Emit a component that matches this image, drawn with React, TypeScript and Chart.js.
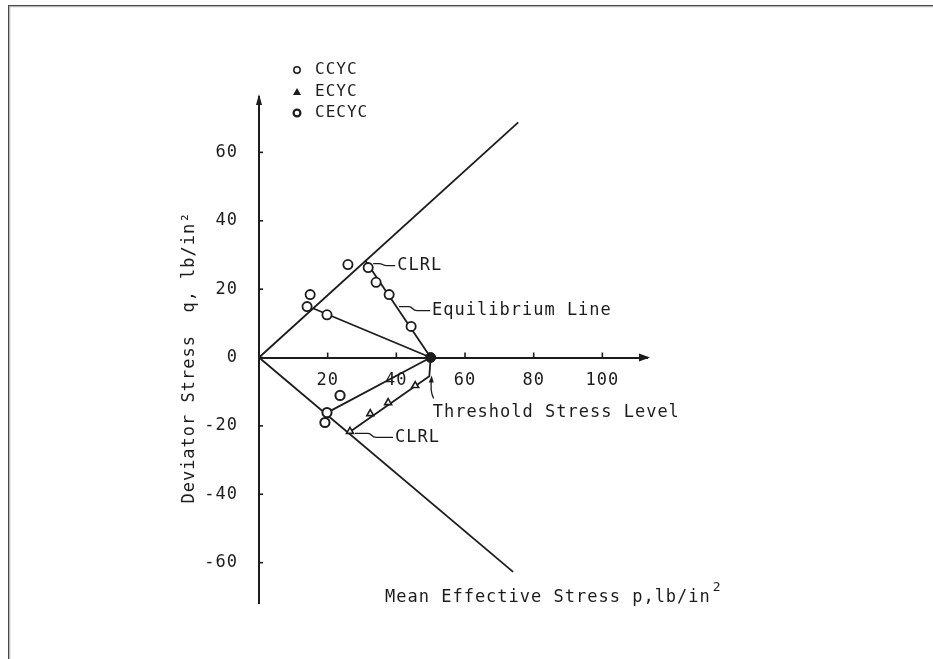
import React, { useEffect, useRef } from 'react';
import { Chart, registerables } from 'chart.js';

Chart.register(...registerables);

// ---- data ----
const xTicks = [20, 40, 60, 80, 100];
const yTicks = [-60, -40, -20, 0, 20, 40, 60];

const upperEnvP = [0, 75.5];
const upperEnvQ = [0, 68.8];
const lowerEnvP = [0, 74];
const lowerEnvQ = [0, -62.7];

const thresholdP = [50];
const thresholdQ = [0];

const ccycPathP = [50, 15.7];
const ccycPathQ = [0, 14.4];
const equilibriumP = [50, 31];
const equilibriumQ = [0, 28.3];
const cecycPathP = [50, 19.3];
const cecycPathQ = [0, -16.4];
const ecycPathP = [50, 49.6, 26.5];
const ecycPathQ = [0, -5.5, -21.7];

const ccycP = [14.9, 14.0, 19.8, 25.9, 31.8, 34.1, 37.9, 44.3];
const ccycQ = [18.4, 14.9, 12.5, 27.2, 26.3, 22.0, 18.4, 9.1];
const ecycP = [26.5, 32.4, 37.6, 45.5];
const ecycQ = [-21.6, -16.4, -13.2, -8.2];
const cecycP = [19.8, 19.2, 23.6];
const cecycQ = [-16.1, -19.0, -11.1];

const legendLabels = ['CCYC', 'ECYC', 'CECYC'];
const yTitle = 'Deviator Stress  q, lb/in²';
const xTitle = 'Mean Effective Stress p,lb/in';
const clrlLabel = 'CLRL';
const equilibriumLabel = 'Equilibrium Line';
const thresholdLabel = 'Threshold Stress Level';

const pts = (p: number[], q: number[]) => p.map((x, i) => ({ x, y: q[i] }));

const FONT = '"DejaVu Sans Mono", monospace';
const INK = '#1c1c1c';

export default function App() {
  const ref = useRef<HTMLCanvasElement>(null);

  useEffect(() => {
    const canvas = ref.current!;

    const lineDs = (p: number[], q: number[]) => ({
      data: pts(p, q),
      showLine: true,
      borderColor: INK,
      borderWidth: 1.8,
      pointRadius: 0,
      order: 2,
      clip: false as const,
    });

    const overlay = {
      id: 'overlay',
      beforeDraw(chart: any) {
        const ctx = chart.ctx as CanvasRenderingContext2D;
        ctx.save();
        ctx.fillStyle = '#fff';
        ctx.fillRect(0, 0, chart.width, chart.height);
        // frame
        ctx.fillStyle = '#4a4a4a';
        ctx.fillRect(8, 5, 925, 1.2);
        ctx.fillRect(8, 5, 1.2, 654);
        ctx.fillStyle = '#b0b0b0';
        ctx.fillRect(9.2, 6.2, 924, 1);
        ctx.fillRect(9.2, 6.2, 1, 653);
        ctx.restore();
        (ctx as any).letterSpacing = '1px';
      },
      afterDraw(chart: any) {
        const ctx = chart.ctx as CanvasRenderingContext2D;
        const xs = chart.scales.x;
        const ys = chart.scales.y;
        const X = (v: number) => xs.getPixelForValue(v);
        const Y = (v: number) => ys.getPixelForValue(v);
        const area = chart.chartArea;
        ctx.save();
        ctx.strokeStyle = INK;
        ctx.fillStyle = INK;
        ctx.lineWidth = 1.6;

        // tick nubs
        xTicks.forEach((v) => {
          ctx.beginPath();
          ctx.moveTo(X(v), Y(0));
          ctx.lineTo(X(v), Y(0) - 5);
          ctx.stroke();
        });
        yTicks.forEach((v) => {
          ctx.beginPath();
          ctx.moveTo(X(0), Y(v));
          ctx.lineTo(X(0) + 4, Y(v));
          ctx.stroke();
        });

        // arrowheads
        ctx.beginPath();
        ctx.moveTo(area.right + 3, Y(0));
        ctx.lineTo(area.right - 8, Y(0) - 4);
        ctx.lineTo(area.right - 8, Y(0) + 4);
        ctx.closePath();
        ctx.fill();
        ctx.beginPath();
        ctx.moveTo(X(0), area.top - 3);
        ctx.lineTo(X(0) - 3, area.top + 8);
        ctx.lineTo(X(0) + 3, area.top + 8);
        ctx.closePath();
        ctx.fill();

        // text setup
        (ctx as any).letterSpacing = '1px';
        ctx.font = `16px ${FONT}`;
        ctx.textBaseline = 'middle';
        ctx.textAlign = 'left';

        // legend
        const lx = 297;
        const lys = [70, 92, 113];
        legendLabels.forEach((t, i) => {
          ctx.fillText(t, lx + 18, lys[i]);
        });
        ctx.lineWidth = 1.5;
        ctx.beginPath();
        ctx.arc(lx, lys[0], 3.2, 0, Math.PI * 2);
        ctx.stroke();
        ctx.beginPath();
        ctx.moveTo(lx, lys[1] - 4);
        ctx.lineTo(lx - 4, lys[1] + 3);
        ctx.lineTo(lx + 4, lys[1] + 3);
        ctx.closePath();
        ctx.fill();
        ctx.lineWidth = 2.2;
        ctx.beginPath();
        ctx.arc(lx, lys[2], 3.4, 0, Math.PI * 2);
        ctx.stroke();

        // leaders
        ctx.lineWidth = 1.3;
        const wiggle = (x0: number, y0: number, x1: number, y1: number) => {
          const mx = x0 + (x1 - x0) * 0.45;
          ctx.beginPath();
          ctx.moveTo(x0, y0);
          ctx.lineTo(mx - 4, y0);
          ctx.bezierCurveTo(mx, y0, mx - 1, y1, mx + 4, y1);
          ctx.lineTo(x1, y1);
          ctx.stroke();
        };
        ctx.font = `17px ${FONT}`;
        // upper CLRL
        const ua = { x: X(ccycP[4]), y: Y(ccycQ[4]) };
        wiggle(ua.x + 5, ua.y - 4, ua.x + 27, ua.y - 2);
        ctx.fillText(clrlLabel, ua.x + 29, ua.y - 2);
        // equilibrium
        const ea = { x: X(40.5), y: Y(14) };
        wiggle(ea.x + 1, ea.y - 3, ea.x + 32, ea.y + 1);
        ctx.fillText(equilibriumLabel, ea.x + 34, ea.y + 1);
        // lower CLRL
        const la = { x: X(ecycP[0]), y: Y(ecycQ[0]) };
        wiggle(la.x + 5, la.y + 2, la.x + 43, la.y + 6);
        ctx.fillText(clrlLabel, la.x + 45, la.y + 6);
        // threshold
        const ta = { x: X(thresholdP[0]), y: Y(thresholdQ[0]) };
        ctx.beginPath();
        ctx.moveTo(ta.x + 3, ta.y + 41);
        ctx.quadraticCurveTo(ta.x - 1, ta.y + 33, ta.x + 1, ta.y + 21);
        ctx.stroke();
        ctx.beginPath();
        ctx.moveTo(ta.x + 1, ta.y + 18);
        ctx.lineTo(ta.x - 2, ta.y + 25);
        ctx.lineTo(ta.x + 3, ta.y + 25);
        ctx.closePath();
        ctx.fill();
        ctx.fillText(thresholdLabel, ta.x + 2, ta.y + 55);

        // x title
        ctx.fillText(xTitle, 385, 598);
        const w = ctx.measureText(xTitle).width;
        ctx.font = `13px ${FONT}`;
        ctx.fillText('2', 385 + w + 2, 588);

        // y title (rotated)
        ctx.save();
        ctx.translate(190, Y(0));
        ctx.rotate(-Math.PI / 2);
        ctx.font = `17px ${FONT}`;
        ctx.textAlign = 'center';
        ctx.fillText(yTitle, 0, 0);
        ctx.restore();

        ctx.restore();
      },
    };

    const chart = new Chart(canvas, {
      type: 'scatter',
      data: {
        datasets: [
          {
            label: 'CCYC',
            data: pts(ccycP, ccycQ),
            pointStyle: 'circle',
            pointRadius: 4.6,
            pointBackgroundColor: '#fff',
            pointBorderColor: INK,
            pointBorderWidth: 1.8,
            order: 0,
            clip: false,
          },
          {
            label: 'ECYC',
            data: pts(ecycP, ecycQ),
            pointStyle: 'triangle',
            pointRadius: 4,
            pointBackgroundColor: '#fff',
            pointBorderColor: INK,
            pointBorderWidth: 1.6,
            order: 0,
            clip: false,
          },
          {
            label: 'CECYC',
            data: pts(cecycP, cecycQ),
            pointStyle: 'circle',
            pointRadius: 4.6,
            pointBackgroundColor: '#fff',
            pointBorderColor: INK,
            pointBorderWidth: 2,
            order: 0,
            clip: false,
          },
          {
            label: 'threshold',
            data: pts(thresholdP, thresholdQ),
            pointRadius: 5,
            pointBackgroundColor: INK,
            pointBorderColor: INK,
            order: 0,
            clip: false,
          },
          lineDs(upperEnvP, upperEnvQ),
          lineDs(lowerEnvP, lowerEnvQ),
          lineDs(ccycPathP, ccycPathQ),
          lineDs(equilibriumP, equilibriumQ),
          lineDs(cecycPathP, cecycPathQ),
          lineDs(ecycPathP, ecycPathQ),
        ] as any,
      },
      options: {
        responsive: false,
        animation: false,
        devicePixelRatio: 1,
        layout: { padding: { left: 179, right: 286, top: 97, bottom: 56 } },
        plugins: { legend: { display: false }, tooltip: { enabled: false } },
        scales: {
          x: {
            type: 'linear',
            min: 0,
            max: 113,
            position: { y: 0 } as any,
            grid: { display: false },
            border: { display: true, color: INK, width: 2 },
            afterBuildTicks: (s: any) => {
              s.ticks = xTicks.map((v) => ({ value: v }));
            },
            afterFit: (s: any) => {
              s.height = 30;
            },
            ticks: {
              autoSkip: false,
              maxRotation: 0,
              padding: 5,
              color: INK,
              font: { family: FONT, size: 17 },
            },
          },
          y: {
            type: 'linear',
            min: -71.8,
            max: 76.2,
            position: 'left',
            grid: { display: false },
            border: { display: true, color: INK, width: 2 },
            afterBuildTicks: (s: any) => {
              s.ticks = yTicks.map((v) => ({ value: v }));
            },
            afterFit: (s: any) => {
              s.width = 80;
            },
            ticks: {
              autoSkip: false,
              padding: 13,
              color: INK,
              font: { family: FONT, size: 17 },
            },
            title: { display: false },
          },
        },
      },
      plugins: [overlay],
    });

    return () => chart.destroy();
  }, []);

  return (
    <div style={{ position: 'fixed', left: 0, top: 0, width: 933, height: 659 }}>
      <canvas ref={ref} width={933} height={659} style={{ display: 'block' }} />
    </div>
  );
}
